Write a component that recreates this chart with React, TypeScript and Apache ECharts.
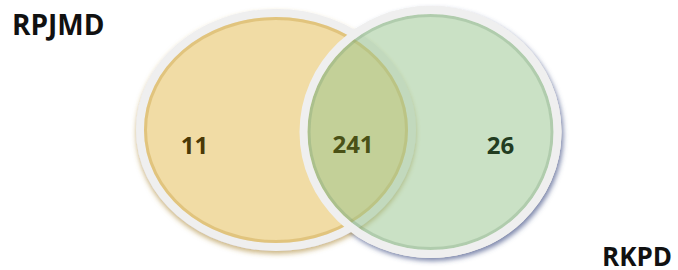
import React, { useEffect, useRef } from "react";
import * as echarts from "echarts";

// ---- data ----
const SET_NAMES = ["RPJMD", "RKPD"];
// counts: only RPJMD, both, only RKPD
const REGION_VALUES = [11, 241, 26];

// ---- layout (pixels, styling only) ----
const LEFT = { cx: 276, cy: 130, rx: 136, ry: 117 };
const RIGHT = { cx: 430.5, cy: 132, rx: 127, ry: 122 };
const RING = 8;
const FONT = '"Open Sans", "Noto Sans", sans-serif';

export default function App() {
  const ref = useRef<HTMLDivElement>(null);

  useEffect(() => {
    if (!ref.current) return;
    const chart = echarts.init(ref.current, undefined, { renderer: "svg" });

    const inner = (e: any, d: number) => ({ cx: e.cx, cy: e.cy, rx: e.rx - d, ry: e.ry - d });

    const regionPos = [
      { x: 194.5, y: 144, color: "#4b3906" },
      { x: 353, y: 143, color: "#4a5116" },
      { x: 500.5, y: 144.5, color: "#223c21" },
    ];

    const graphic: any[] = [
      // right base (white, casts shadow)
      {
        type: "ellipse",
        shape: { ...RIGHT },
        style: {
          fill: "#ffffff",
          stroke: "#efefef",
          lineWidth: RING,
          shadowBlur: 5,
          shadowOffsetX: 2,
          shadowOffsetY: 3,
          shadowColor: "rgba(70,85,135,0.7)",
        },
      },
      // left set
      {
        type: "ellipse",
        shape: { ...LEFT },
        style: {
          fill: "#f1dca5",
          stroke: "#efefef",
          lineWidth: RING,
          shadowBlur: 5,
          shadowOffsetX: 0,
          shadowOffsetY: 3,
          shadowColor: "rgba(170,135,50,0.6)",
        },
      },
      {
        type: "ellipse",
        shape: inner(LEFT, RING / 2 + 1.5),
        style: { fill: "transparent", stroke: "rgba(210,172,85,0.5)", lineWidth: 3 },
      },
      // right set translucent fill
      {
        type: "ellipse",
        shape: inner(RIGHT, RING / 2 - 0.5),
        style: { fill: "rgba(150,195,140,0.5)" },
      },
      {
        type: "ellipse",
        shape: inner(RIGHT, RING / 2 + 1.5),
        style: { fill: "transparent", stroke: "rgba(110,150,110,0.28)", lineWidth: 3 },
      },
      {
        type: "ellipse",
        shape: { ...RIGHT },
        style: { fill: "transparent", stroke: "#efefef", lineWidth: RING },
      },
      // set names
      {
        type: "text",
        x: 12,
        y: 24,
        style: {
          text: SET_NAMES[0],
          fontFamily: FONT,
          fontWeight: "bold",
          fontSize: 28,
          fill: "#111111",
          align: "left",
          verticalAlign: "middle",
        },
      },
      {
        type: "text",
        x: 602,
        y: 256,
        style: {
          text: SET_NAMES[1],
          fontFamily: FONT,
          fontWeight: "bold",
          fontSize: 26,
          fill: "#111111",
          align: "left",
          verticalAlign: "middle",
        },
      },
      ...REGION_VALUES.map((v, i) => ({
        type: "text",
        x: regionPos[i].x,
        y: regionPos[i].y,
        style: {
          text: String(v),
          fontFamily: FONT,
          fontWeight: "bold",
          fontSize: 24,
          fill: regionPos[i].color,
          align: "center",
          verticalAlign: "middle",
        },
      })),
    ];

    chart.setOption({
      animation: false,
      backgroundColor: "#ffffff",
      graphic,
    });

    return () => chart.dispose();
  }, []);

  return (
    <div
      ref={ref}
      style={{ position: "fixed", left: 0, top: 0, width: 678, height: 270 }}
    />
  );
}
